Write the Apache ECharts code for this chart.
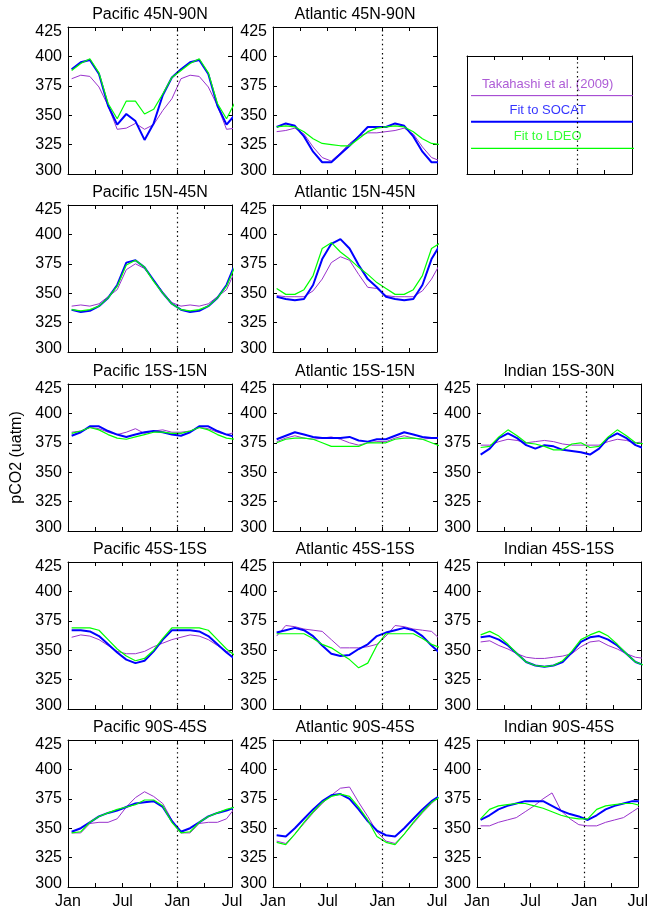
<!DOCTYPE html>
<html>
<head>
<meta charset="utf-8">
<script src="https://cdn.jsdelivr.net/npm/echarts@6/dist/echarts.min.js"></script>
<style>
  html, body { margin: 0; padding: 0; background: #fff; }
  #chart { width: 651px; height: 912px; }
</style>
</head>
<body>
<div id="chart"></div>
<script>
// ---- axis ticks and labels ----
const monthTicks = [0, 3, 6, 9, 12, 15, 18];
const monthLabels = { 0: 'Jan', 6: 'Jul', 12: 'Jan', 18: 'Jul' };
const pco2Ticks = [300, 325, 350, 375, 400, 425];
const yearBoundary = 12;   // January of the second year

// ---- monthly climatologies, Jan..Dec, pCO2 (uatm) ----
// Takahashi et al. (2009) / fit to SOCAT / fit to LDEO
const pacific45N90N_tak   = [381, 384, 383, 374, 358, 338, 339, 343, 338, 342, 354, 364];
const pacific45N90N_socat = [389, 395, 397, 385, 358, 342, 351, 345, 329, 343, 367, 382];
const pacific45N90N_ldeo  = [388, 394, 398, 386, 360, 347, 362, 362, 351, 355, 368, 382];

const atlantic45N90N_tak   = [336, 337, 339, 334, 323, 314, 311, 318, 326, 332, 335, 335];
const atlantic45N90N_socat = [340, 343, 341, 332, 319, 310, 310, 317, 324, 332, 340, 340];
const atlantic45N90N_ldeo  = [340, 341, 340, 336, 330, 326, 325, 324, 324, 330, 336, 339];

const pacific15N45N_tak   = [339, 340, 339, 341, 347, 353, 370, 375, 371, 361, 351, 342];
const pacific15N45N_socat = [336, 334, 335, 339, 346, 357, 376, 378, 372, 361, 350, 341];
const pacific15N45N_ldeo  = [336, 335, 336, 339, 346, 356, 374, 378, 372, 360, 350, 341];

const atlantic15N45N_tak   = [348, 347, 347, 347, 352, 362, 376, 381, 378, 366, 355, 354];
const atlantic15N45N_socat = [347, 345, 344, 345, 357, 379, 392, 396, 388, 374, 362, 355];
const atlantic15N45N_ldeo  = [354, 349, 349, 353, 365, 388, 393, 385, 379, 372, 366, 359];

const pacific15S15N_tak   = [384, 385, 388, 387, 384, 382, 384, 387, 383, 385, 386, 384];
const pacific15S15N_socat = [381, 384, 389, 389, 385, 382, 380, 382, 384, 385, 384, 382];
const pacific15S15N_ldeo  = [383, 385, 388, 386, 382, 379, 378, 380, 382, 384, 384, 383];

const atlantic15S15N_tak   = [376, 379, 381, 379, 378, 379, 380, 378, 375, 373, 375, 376];
const atlantic15S15N_socat = [378, 381, 384, 382, 380, 379, 379, 379, 380, 377, 376, 378];
const atlantic15S15N_ldeo  = [375, 378, 379, 379, 378, 375, 372, 372, 372, 372, 375, 375];

const indian15S30N_tak   = [373, 373, 376, 378, 377, 375, 376, 377, 376, 374, 373, 373];
const indian15S30N_socat = [365, 370, 379, 383, 379, 373, 370, 373, 372, 369, 368, 367];
const indian15S30N_ldeo  = [371, 372, 380, 386, 381, 375, 374, 372, 369, 369, 374, 375];

const pacific45S15S_tak   = [361, 363, 362, 359, 354, 349, 347, 347, 349, 353, 356, 359];
const pacific45S15S_socat = [367, 367, 366, 362, 355, 348, 342, 339, 341, 349, 359, 367];
const pacific45S15S_ldeo  = [369, 369, 369, 367, 359, 351, 345, 341, 343, 350, 360, 369];

const atlantic45S15S_tak   = [362, 371, 370, 368, 367, 366, 359, 352, 352, 352, 353, 355];
const atlantic45S15S_socat = [365, 367, 369, 367, 362, 354, 347, 345, 346, 351, 355, 362];
const atlantic45S15S_ldeo  = [364, 364, 364, 364, 360, 355, 352, 347, 342, 335, 339, 354];

const indian45S15S_tak   = [357, 358, 354, 351, 347, 344, 343, 343, 344, 345, 347, 353];
const indian45S15S_socat = [361, 362, 359, 354, 347, 340, 337, 336, 337, 340, 348, 357];
const indian45S15S_ldeo  = [363, 366, 362, 355, 347, 340, 337, 336, 337, 341, 349, 359];

const pacific90S45S_tak   = [346, 346, 354, 355, 355, 358, 368, 376, 381, 377, 371, 357];
const pacific90S45S_socat = [347, 350, 355, 360, 363, 365, 368, 371, 372, 373, 368, 356];
const pacific90S45S_ldeo  = [346, 347, 355, 360, 363, 366, 368, 370, 374, 374, 369, 355];

const atlantic90S45S_tak   = [339, 337, 345, 354, 363, 371, 378, 384, 385, 372, 360, 347];
const atlantic90S45S_socat = [344, 343, 350, 358, 366, 373, 378, 379, 375, 366, 356, 348];
const atlantic90S45S_ldeo  = [338, 336, 345, 355, 364, 372, 377, 379, 377, 368, 357, 343];

const indian90S45S_tak   = [352, 352, 355, 357, 359, 364, 369, 375, 380, 365, 358, 353];
const indian90S45S_socat = [357, 361, 366, 369, 371, 373, 373, 373, 369, 365, 362, 360];
const indian90S45S_ldeo  = [358, 366, 369, 370, 371, 371, 369, 367, 364, 361, 359, 358];

// ---- styling ----
const FONT = "'Liberation Sans', Arial, Helvetica, sans-serif";
const C_TAK = '#9932CC';
const C_SOCAT = '#0000FF';
const C_LDEO = '#00FF00';
const sourceNames = ['Takahashi et al. (2009)', 'Fit to SOCAT', 'Fit to LDEO'];

// ---- panel layout ----
const colLeft = [68, 273, 477];
const rowTop = [27, 205, 384, 562, 740];
const plotW = 164, plotH = 147;

const panels = [
  { title: 'Pacific 45N-90N',  row: 0, col: 0, d: [pacific45N90N_tak,  pacific45N90N_socat,  pacific45N90N_ldeo] },
  { title: 'Atlantic 45N-90N', row: 0, col: 1, d: [atlantic45N90N_tak, atlantic45N90N_socat, atlantic45N90N_ldeo] },
  { title: 'Pacific 15N-45N',  row: 1, col: 0, d: [pacific15N45N_tak,  pacific15N45N_socat,  pacific15N45N_ldeo] },
  { title: 'Atlantic 15N-45N', row: 1, col: 1, d: [atlantic15N45N_tak, atlantic15N45N_socat, atlantic15N45N_ldeo] },
  { title: 'Pacific 15S-15N',  row: 2, col: 0, d: [pacific15S15N_tak,  pacific15S15N_socat,  pacific15S15N_ldeo], ylabel: 'pCO2 (uatm)' },
  { title: 'Atlantic 15S-15N', row: 2, col: 1, d: [atlantic15S15N_tak, atlantic15S15N_socat, atlantic15S15N_ldeo] },
  { title: 'Indian 15S-30N',   row: 2, col: 2, d: [indian15S30N_tak,   indian15S30N_socat,   indian15S30N_ldeo] },
  { title: 'Pacific 45S-15S',  row: 3, col: 0, d: [pacific45S15S_tak,  pacific45S15S_socat,  pacific45S15S_ldeo] },
  { title: 'Atlantic 45S-15S', row: 3, col: 1, d: [atlantic45S15S_tak, atlantic45S15S_socat, atlantic45S15S_ldeo] },
  { title: 'Indian 45S-15S',   row: 3, col: 2, d: [indian45S15S_tak,   indian45S15S_socat,   indian45S15S_ldeo] },
  { title: 'Pacific 90S-45S',  row: 4, col: 0, d: [pacific90S45S_tak,  pacific90S45S_socat,  pacific90S45S_ldeo] },
  { title: 'Atlantic 90S-45S', row: 4, col: 1, d: [atlantic90S45S_tak, atlantic90S45S_socat, atlantic90S45S_ldeo] },
  { title: 'Indian 90S-45S',   row: 4, col: 2, d: [indian90S45S_tak,   indian90S45S_socat,   indian90S45S_ldeo] }
];

// monthly values sit near mid-month; the annual cycle is shown for 1.5 years
const monthOffset = 0.4;
function twoCycles(values) {
  const pts = [];
  for (let k = 0; k <= 18; k++) pts.push([k + monthOffset, values[k % 12]]);
  return pts;
}

const axisLineStyle = { show: true, onZero: false, lineStyle: { color: '#000', width: 1 } };
const tickStyle = { show: true, inside: true, length: 4, lineStyle: { color: '#000', width: 1 } };
const labelText = { color: '#000', fontSize: 16, fontFamily: FONT };

const grids = [], xAxes = [], yAxes = [], series = [], graphics = [];

function addFrame(rect, opts) {
  const gi = grids.length;
  grids.push({ left: rect.left, top: rect.top, width: rect.width, height: rect.height, show: false, containLabel: false });
  const xi = xAxes.length, yi = yAxes.length;
  xAxes.push({
    type: 'value', gridIndex: gi, position: 'bottom', min: 0, max: 18, interval: 3,
    axisLine: axisLineStyle, axisTick: tickStyle, splitLine: { show: false },
    axisLabel: Object.assign({
      show: !!opts.xLabels, margin: 7, showMinLabel: true, showMaxLabel: true,
      formatter: v => monthLabels[v] || ''
    }, labelText)
  });
  xAxes.push({
    type: 'value', gridIndex: gi, position: 'top', min: 0, max: 18, interval: 3,
    axisLine: axisLineStyle, axisTick: tickStyle, splitLine: { show: false }, axisLabel: { show: false }
  });
  const yRange = opts.yRange || [300, 425];
  const leftY = {
    type: 'value', gridIndex: gi, position: 'left', min: yRange[0], max: yRange[1], interval: 25,
    axisLine: axisLineStyle, axisTick: Object.assign({}, tickStyle, { show: !!opts.yTicks }), splitLine: { show: false },
    axisLabel: Object.assign({
      show: !!opts.yTicks, margin: 6,
      formatter: v => v === 425 ? '{hi|425}' : (v === 300 ? '{lo|300}' : String(v)),
      rich: {
        hi: Object.assign({ padding: [9, 0, 0, 0] }, labelText),
        lo: Object.assign({ padding: [0, 0, 6, 0] }, labelText)
      }
    }, labelText)
  };
  if (opts.ylabel) {
    Object.assign(leftY, {
      name: opts.ylabel, nameLocation: 'middle', nameGap: 43,
      nameTextStyle: { color: '#000', fontSize: 16, fontFamily: FONT }
    });
  }
  yAxes.push(leftY);
  yAxes.push({
    type: 'value', gridIndex: gi, position: 'right', min: yRange[0], max: yRange[1], interval: 25,
    axisLine: axisLineStyle, axisTick: Object.assign({}, tickStyle, { show: !!opts.yTicks }),
    splitLine: { show: false }, axisLabel: { show: false }
  });
  return { xi, yi };
}

function boundaryLine() {
  return {
    silent: true, symbol: 'none', animation: false,
    label: { show: false },
    lineStyle: { color: '#000', width: 1.2, type: [1.4, 3.2] },
    data: [{ xAxis: yearBoundary }]
  };
}

// data panels
panels.forEach(p => {
  const rect = { left: colLeft[p.col], top: rowTop[p.row], width: plotW, height: plotH };
  const ax = addFrame(rect, { xLabels: p.row === 4, yTicks: true, ylabel: p.ylabel });
  const colors = [C_TAK, C_SOCAT, C_LDEO];
  const widths = [1, 2, 1.2];
  p.d.forEach((vals, s) => {
    series.push({
      type: 'line', name: sourceNames[s], xAxisIndex: ax.xi, yAxisIndex: ax.yi,
      data: twoCycles(vals), showSymbol: false, symbol: 'none', clip: true,
      lineStyle: { color: colors[s], width: widths[s] }, itemStyle: { color: colors[s] },
      z: 2 + s, animation: false,
      markLine: s === 0 ? boundaryLine() : undefined
    });
  });
  graphics.push({
    type: 'text', x: rect.left + plotW / 2, y: rect.top - 12,
    style: { text: p.title, textAlign: 'center', textVerticalAlign: 'middle', fill: '#000', font: '16px ' + FONT }
  });
});

// legend box drawn as its own small frame
const legendRect = { left: 467, top: 56, width: 165, height: 118 };
const legAx = addFrame(legendRect, { xLabels: false, yTicks: false, yRange: [0, 1] });
const legendEntries = [
  { name: sourceNames[0], color: C_TAK,   width: 1,   level: 0.664 },
  { name: sourceNames[1], color: C_SOCAT, width: 2,   level: 0.443 },
  { name: sourceNames[2], color: C_LDEO,  width: 1.2, level: 0.218 }
];
legendEntries.forEach((e, i) => {
  series.push({
    type: 'line', xAxisIndex: legAx.xi, yAxisIndex: legAx.yi,
    data: [[0.44, e.level], [18.5, e.level]], showSymbol: false, symbol: 'none', clip: true,
    lineStyle: { color: e.color, width: e.width }, animation: false,
    markLine: i === 0 ? boundaryLine() : undefined
  });
  series.push({
    type: 'scatter', xAxisIndex: legAx.xi, yAxisIndex: legAx.yi,
    data: [[8.8, e.level]], symbol: 'circle', symbolSize: 0, animation: false, silent: true,
    label: {
      show: true, position: 'top', distance: 5, formatter: e.name,
      color: e.color, fontSize: 13, fontFamily: FONT
    }
  });
});

const chart = echarts.init(document.getElementById('chart'), null, { renderer: 'canvas' });
chart.setOption({
  backgroundColor: '#fff',
  animation: false,
  grid: grids,
  xAxis: xAxes,
  yAxis: yAxes,
  series: series,
  graphic: graphics
});
</script>
</body>
</html>
